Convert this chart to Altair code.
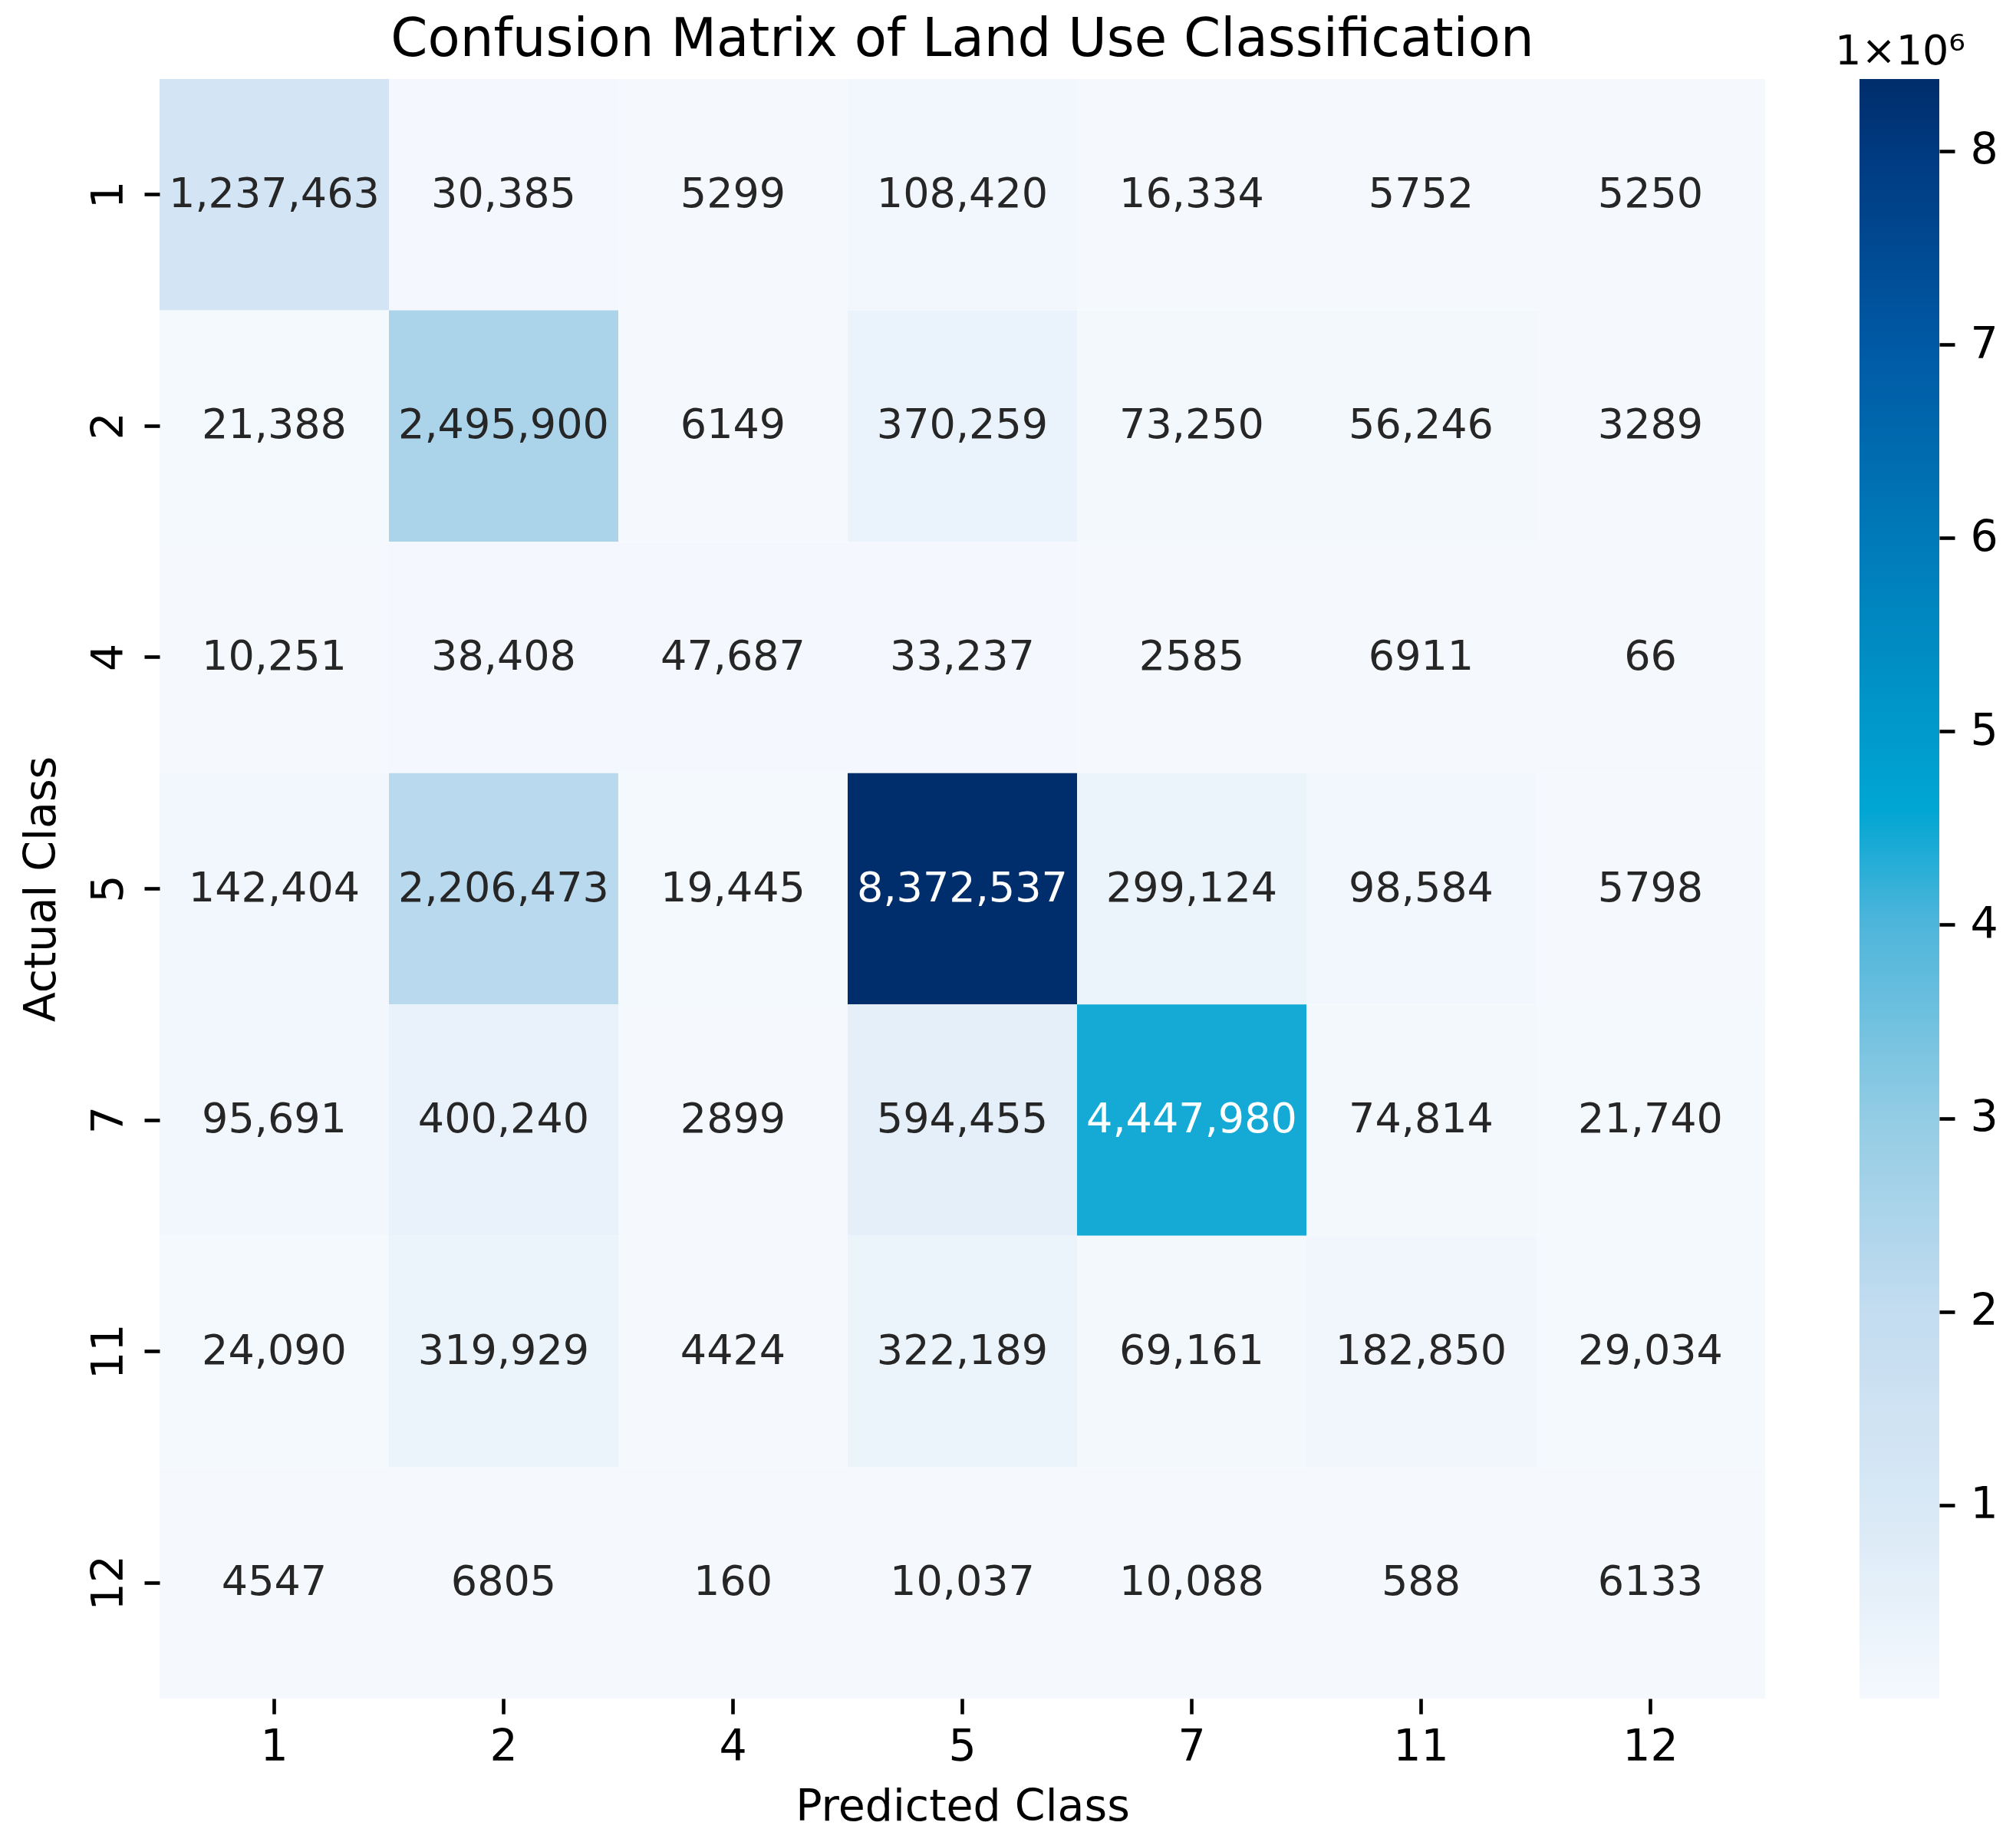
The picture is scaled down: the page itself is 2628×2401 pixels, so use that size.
import altair as alt
import pandas as pd

# ---- data ----
classes = ["1", "2", "4", "5", "7", "11", "12"]
row_1 = [1237463, 30385, 5299, 108420, 16334, 5752, 5250]
row_2 = [21388, 2495900, 6149, 370259, 73250, 56246, 3289]
row_4 = [10251, 38408, 47687, 33237, 2585, 6911, 66]
row_5 = [142404, 2206473, 19445, 8372537, 299124, 98584, 5798]
row_7 = [95691, 400240, 2899, 594455, 4447980, 74814, 21740]
row_11 = [24090, 319929, 4424, 322189, 69161, 182850, 29034]
row_12 = [4547, 6805, 160, 10037, 10088, 588, 6133]
matrix = [row_1, row_2, row_4, row_5, row_7, row_11, row_12]
cbar_ticks = [1, 2, 3, 4, 5, 6, 7, 8]  # in units of 1e6

# colour ramp (position 0..1 -> colour)
ramp_pos = [0.0, 0.12, 0.24, 0.36, 0.48, 0.55, 0.60, 0.72, 0.84, 0.955, 1.0]
ramp_col = ["#f5f9fe", "#d8e8f5", "#c3dcf0", "#92cce4", "#4db5da", "#00a6d3",
            "#0099cb", "#0079b8", "#0058a3", "#003a80", "#002d6b"]

records = []
for actual, row in zip(classes, matrix):
    for predicted, v in zip(classes, row):
        records.append({
            "actual": actual,
            "predicted": predicted,
            "value": v,
            "label": f"{v:,}" if v >= 10000 else str(v),
        })
df = pd.DataFrame(records)

vmin = int(df["value"].min())
vmax = int(df["value"].max())
domain = [vmin + p * (vmax - vmin) for p in ramp_pos]

FONT = "DejaVu Sans"
W, H = 2093, 2111

base = alt.Chart(df).encode(
    x=alt.X(
        "predicted:O", sort=classes, title="Predicted Class",
        scale=alt.Scale(paddingInner=0, paddingOuter=0),
        axis=alt.Axis(labelAngle=0, labelPadding=15, titlePadding=22),
    ),
    y=alt.Y(
        "actual:O", sort=classes, title="Actual Class",
        scale=alt.Scale(paddingInner=0, paddingOuter=0),
        axis=alt.Axis(labelAngle=270, labelAlign="center", labelBaseline="bottom",
                      labelPadding=17, titlePadding=30),
    ),
)

rect = base.mark_rect().encode(
    color=alt.Color(
        "value:Q",
        scale=alt.Scale(domain=domain, range=ramp_col, interpolate="rgb"),
        legend=None,
    )
)

text = base.mark_text(fontSize=54, font=FONT, baseline="middle", align="center").encode(
    text="label:N",
    color=alt.condition(alt.datum.value > 3500000, alt.value("#ffffff"), alt.value("#262626")),
)

heat = (rect + text).properties(
    width=W, height=H,
    title=alt.TitleParams(
        "Confusion Matrix of Land Use Classification",
        fontSize=69, font=FONT, fontWeight="normal", color="#000000",
        anchor="middle", frame="group", offset=16,
    ),
)

cb_df = pd.DataFrame({"lo": [vmin], "hi": [vmax]})
stops = [alt.GradientStop(color=c, offset=p) for p, c in zip(ramp_pos, ramp_col)]
cbar = alt.Chart(cb_df).mark_rect(
    fill=alt.Gradient(gradient="linear", stops=stops, x1=0, x2=0, y1=1, y2=0)
).encode(
    x=alt.value(0),
    x2=alt.value(104),
    y=alt.Y(
        "lo:Q",
        scale=alt.Scale(domain=[vmin, vmax], nice=False, zero=False),
        axis=alt.Axis(orient="right", values=[t * 1000000 for t in cbar_ticks],
                      labelExpr="datum.value / 1000000", title=None, labelPadding=20,
                      labelBaseline="middle"),
    ),
    y2="hi:Q",
).properties(
    width=104, height=H,
    title=alt.TitleParams(
        "1×10⁶", fontSize=54, font=FONT, fontWeight="normal", color="#000000",
        anchor="end", frame="group", offset=8, dx=34,
    ),
)

chart = alt.hconcat(heat, cbar, spacing=123, bounds="flush").properties(
    padding={"left": 17, "top": 10, "right": 5, "bottom": 5}
).configure_view(
    stroke=None
).configure_axis(
    labelFont=FONT, titleFont=FONT, labelFontSize=57, titleFontSize=57,
    titleFontWeight="normal", labelColor="#000000", titleColor="#000000",
    tickColor="#000000", tickWidth=4.6, tickSize=20, domain=False, grid=False,
)

chart.save("out.html", embed_options={"renderer": "svg", "actions": False})
